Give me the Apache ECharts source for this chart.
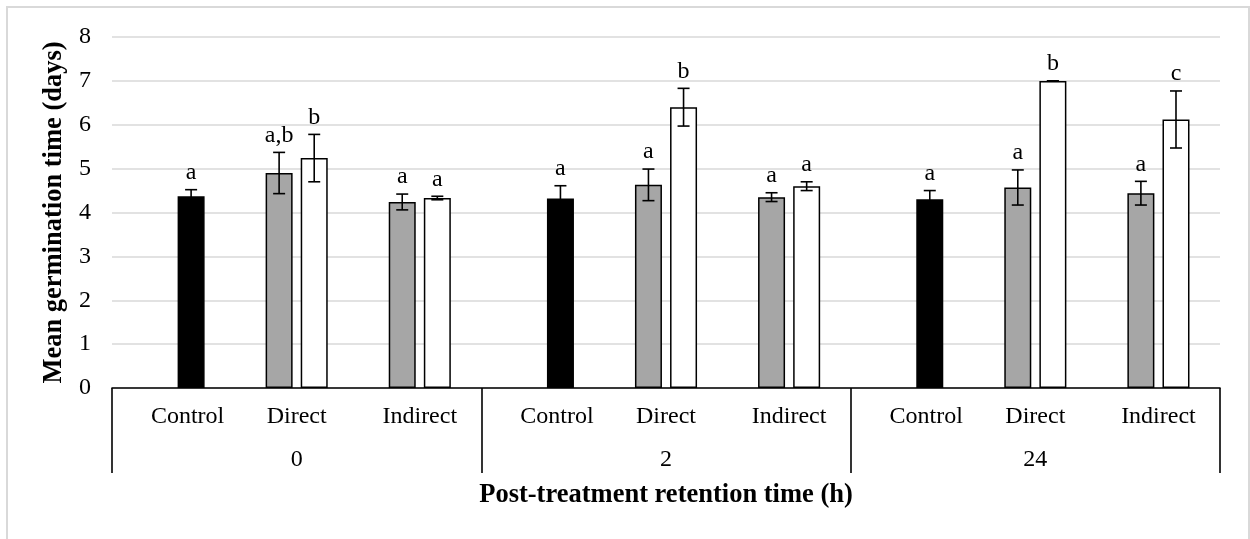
<!DOCTYPE html>
<html><head><meta charset="utf-8">
<script src="https://cdn.jsdelivr.net/npm/echarts@6/dist/echarts.min.js"></script>
<style>html,body{margin:0;padding:0;background:#fff}#c{width:1250px;height:539px}</style>
</head><body><div id="c"></div>
<script>
// ---- data ----
const categories = ['Control','Direct','Indirect','Control','Direct','Indirect','Control','Direct','Indirect'];
const groups = ['0','2','24'];
// left slot (gray) bars
const grayMeans = [null, 4.90, 4.24, null, 4.63, 4.35, null, 4.57, 4.44];
const grayErr   = [null, 0.47, 0.18, null, 0.36, 0.10, null, 0.40, 0.27];
const grayLetters = ['', 'a,b', 'a', '', 'a', 'a', '', 'a', 'a'];
// right slot bars (black for Control, white otherwise)
const rightMeans = [4.37, 5.24, 4.33, 4.32, 6.40, 4.60, 4.30, 7.00, 6.12];
const rightErr   = [0.15, 0.54, 0.04, 0.29, 0.43, 0.10, 0.20, 0.00, 0.65];
const rightLetters = ['a', 'b', 'a', 'a', 'b', 'a', 'a', 'b', 'c'];
const yTicks = [0, 8, 1]; // min, max, interval

// ---- style ----
const FONT = '"Liberation Serif", "Times New Roman", serif';
const FS = 24;
const FS_T = 26.5;
const BAR_W = 27, BAR_GAP = 0.3;
const SLOT = BAR_W * (1 + BAR_GAP) / 2;

function errSeries(means, errs, letters, sign) {
  const items = [];
  const labels = [];
  means.forEach((m, i) => { if (m != null) { items.push([i, m, errs[i]]); labels.push(letters[i]); } });
  return {
    type: 'custom',
    xAxisIndex: 0, yAxisIndex: 0,
    z: 5, silent: true,
    data: items,
    renderItem: function (params, api) {
      const i = api.value(0), m = api.value(1), e = api.value(2);
      const top = api.coord([i, m + e]);
      const bot = api.coord([i, m - e]);
      const x = top[0] + sign * SLOT;
      const st = { stroke: '#000', lineWidth: 1.6 };
      return {
        type: 'group',
        children: [
          { type: 'line', shape: { x1: x, y1: top[1], x2: x, y2: bot[1] }, style: st },
          { type: 'line', shape: { x1: x - 6, y1: top[1], x2: x + 6, y2: top[1] }, style: st },
          { type: 'line', shape: { x1: x - 6, y1: bot[1], x2: x + 6, y2: bot[1] }, style: st },
          { type: 'text', x: x, y: top[1] - 5,
            style: { text: labels[params.dataIndex], fill: '#000', fontSize: FS, fontFamily: FONT,
                     align: 'center', verticalAlign: 'bottom' } }
        ]
      };
    }
  };
}

const chart = echarts.init(document.getElementById('c'));
chart.setOption({
  animation: false,
  backgroundColor: '#fff',
  graphic: [{
    type: 'rect', shape: { x: 7, y: 7, width: 1242, height: 560 },
    style: { fill: 'none', stroke: '#d9d9d9', lineWidth: 2 }, silent: true, z: -10
  }],
  grid: { left: 112, right: 30, top: 37, bottom: 151 },
  xAxis: [{
    type: 'category',
    position: 'bottom',
    data: categories.map(c => c === 'Control'
      ? { value: c, textStyle: { padding: [0, 0, 0, 28] } } : c),
    axisLine: { lineStyle: { color: '#000', width: 1.6 } },
    axisTick: { show: false },
    axisLabel: { interval: 0, margin: 17, fontSize: FS, color: '#000', fontFamily: FONT },
    splitLine: { show: false }
  }, {
    type: 'category',
    position: 'bottom',
    data: groups,
    axisLine: { show: false },
    axisTick: { show: true, length: 85, lineStyle: { color: '#000', width: 1.6 } },
    axisLabel: { interval: 0, margin: 60, fontSize: FS, color: '#000', fontFamily: FONT },
    splitLine: { show: false },
    name: 'Post-treatment retention time (h)',
    nameLocation: 'middle',
    nameGap: 94,
    nameTextStyle: { fontSize: FS_T, fontWeight: 'bold', color: '#000', fontFamily: FONT }
  }],
  yAxis: {
    type: 'value',
    min: yTicks[0], max: yTicks[1], interval: yTicks[2],
    axisLine: { show: false },
    axisTick: { show: false },
    axisLabel: { margin: 21, fontSize: FS, color: '#000', fontFamily: FONT },
    splitLine: { lineStyle: { color: '#d9d9d9', width: 1.6 } },
    name: 'Mean germination time (days)',
    nameLocation: 'middle',
    nameRotate: 90,
    nameGap: 42,
    nameTextStyle: { fontSize: FS_T, fontWeight: 'bold', color: '#000', fontFamily: FONT }
  },
  series: [{
    type: 'bar',
    data: grayMeans,
    barWidth: BAR_W,
    barGap: (BAR_GAP * 100) + '%',
    itemStyle: { color: '#a6a6a6', borderColor: '#000', borderWidth: 1.5 }
  }, {
    type: 'bar',
    data: rightMeans.map((v, i) => categories[i] === 'Control'
      ? { value: v, itemStyle: { color: '#000' } } : v),
    barWidth: BAR_W,
    barGap: (BAR_GAP * 100) + '%',
    itemStyle: { color: '#fff', borderColor: '#000', borderWidth: 1.5 }
  },
  errSeries(grayMeans, grayErr, grayLetters, -1),
  errSeries(rightMeans, rightErr, rightLetters, 1)
  ]
});
</script></body></html>
